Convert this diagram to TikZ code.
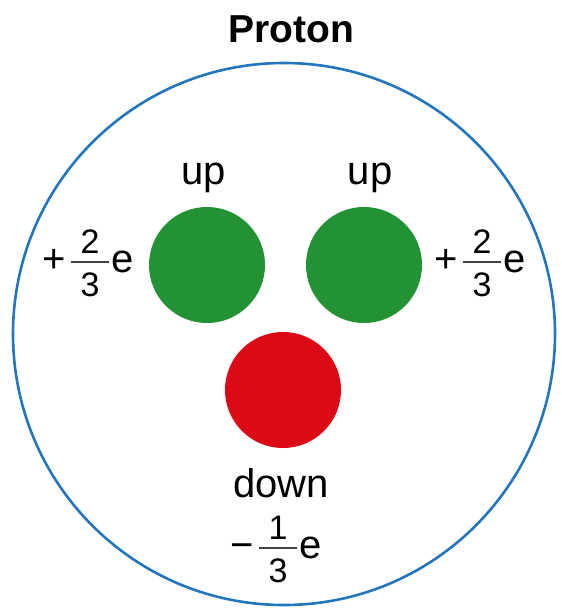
\documentclass[tikz,border=0pt]{standalone}
\usepackage{fontspec}
\setmainfont{Liberation Sans}
\definecolor{shellblue}{RGB}{35,118,190}
\definecolor{upgreen}{RGB}{34,146,52}
\definecolor{downred}{RGB}{220,10,22}
% stacked fraction in the text font
\newcommand{\qfrac}[2]{\raisebox{-24.5pt}{\fontsize{34}{34}\selectfont
  \vbox{\baselineskip=0pt\lineskip=0pt\lineskiplimit=0pt
    \halign{\hfil##\hfil\cr #1\cr\noalign{\vskip 7pt}\textcolor{black!75}{\rule{38pt}{2pt}}\cr\noalign{\vskip 10pt}#2\cr}}}}
\newcommand{\qcharge}[3]{#1\kern5pt\qfrac{#2}{#3}\kern2pt e}

\begin{document}
\begin{tikzpicture}[x=1pt,y=-1pt,
    quark/.style={circle, minimum size=116pt, inner sep=0pt},
    word/.style={font=\fontsize{40}{40}\selectfont, inner sep=0pt, anchor=base},
    charge/.style={font=\fontsize{40}{40}\selectfont, inner sep=0pt, anchor=base}]
    \useasboundingbox (0,0) rectangle (561,609);

    % Title
    \node[word, font=\fontsize{39}{39}\selectfont\bfseries] (title) at (291,43) {Proton};

    % Proton boundary
    \node[circle, draw=shellblue, line width=2.6pt, minimum size=542pt, inner sep=0pt] (shell) at (284,334) {};

    % Quarks
    \node[quark, fill=upgreen] (upL) at (207,265) {};
    \node[quark, fill=upgreen] (upR) at (364,265) {};
    \node[quark, fill=downred] (dn) at (283,390) {};

    % Names
    \node[word] (upLname) at (204,185) {up};
    \node[word] (upRname) at (370,185) {up};
    \node[word] (dnname) at (281,497) {down};

    % Charges
    \node[charge] (upLq) at (88,272) {\qcharge{+}{2}{3}};
    \node[charge] (upRq) at (480,272) {\qcharge{+}{2}{3}};
    \node[charge] (dnq) at (276,558) {\qcharge{−}{1}{3}};
\end{tikzpicture}
\end{document}
